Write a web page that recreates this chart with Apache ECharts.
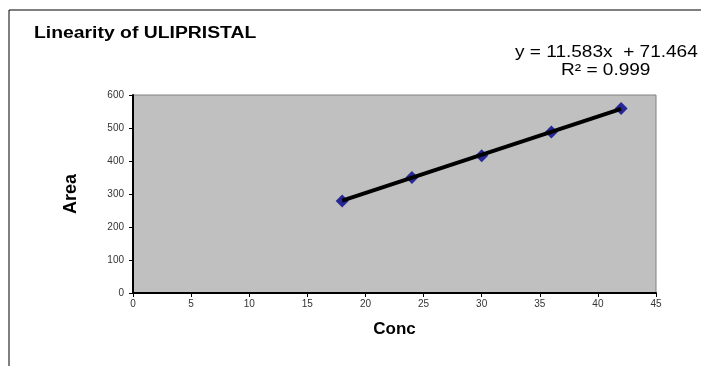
<!DOCTYPE html>
<html><head><meta charset="utf-8">
<script src="https://cdn.jsdelivr.net/npm/echarts@6/dist/echarts.min.js"></script>
<style>html,body{margin:0;padding:0;background:#fff}#c{width:701px;height:366px}</style>
</head><body><div id="c"></div>
<script>
var concValues = [18, 24, 30, 36, 42];
var areaValues = [279, 350, 416, 488, 559];
var trendX = [18, 42];
var trendY = [280, 558];
var xTicks = [0, 5, 10, 15, 20, 25, 30, 35, 40, 45];
var yTicks = [0, 100, 200, 300, 400, 500, 600];
var titleText = 'Linearity of ULIPRISTAL';
var eqText = 'y = 11.583x  + 71.464';
var r2Text = 'R² = 0.999';

var chart = echarts.init(document.getElementById('c'), null, {renderer: 'canvas'});
var font = 'Arial, "Liberation Sans", sans-serif';
chart.setOption({
  animation: false,
  backgroundColor: '#fff',
  grid: {left: 133, right: 45, top: 95, bottom: 73, show: true, backgroundColor: '#c0c0c0', borderColor: '#808080', borderWidth: 1},
  xAxis: {
    type: 'value', min: xTicks[0], max: xTicks[xTicks.length - 1], interval: 5,
    name: 'Conc', nameLocation: 'middle', nameGap: 28,
    nameTextStyle: {fontFamily: font, fontSize: 17, fontWeight: 'bold', color: '#000'},
    axisLine: {show: true, onZero: false, lineStyle: {color: '#000', width: 2}},
    axisTick: {show: true, length: 4, lineStyle: {color: '#000'}},
    axisLabel: {fontFamily: font, fontSize: 10, color: '#333', margin: 6},
    splitLine: {show: false}
  },
  yAxis: {
    type: 'value', min: yTicks[0], max: yTicks[yTicks.length - 1], interval: 100,
    name: 'Area', nameLocation: 'middle', nameGap: 53,
    nameTextStyle: {fontFamily: font, fontSize: 18, fontWeight: 'bold', color: '#000'},
    axisLine: {show: true, onZero: false, lineStyle: {color: '#000', width: 2}},
    axisTick: {show: true, length: 4, lineStyle: {color: '#000'}},
    axisLabel: {fontFamily: font, fontSize: 10, color: '#333', margin: 9},
    splitLine: {show: false}
  },
  graphic: [
    {type: 'line', shape: {x1: 9, y1: 10, x2: 701, y2: 10}, style: {stroke: '#000', lineWidth: 1}},
    {type: 'line', shape: {x1: 9, y1: 10, x2: 9, y2: 366}, style: {stroke: '#000', lineWidth: 1}},
    {type: 'text', x: 34, y: 33.5, scaleX: 1.21,
      style: {text: titleText, x: 0, y: 0, font: 'bold 16px ' + font, fill: '#000', align: 'left', verticalAlign: 'middle'}},
    {type: 'text', x: 515, y: 52.5, scaleX: 1.19,
      style: {text: eqText, x: 0, y: 0, font: '16px ' + font, fill: '#000', align: 'left', verticalAlign: 'middle'}},
    {type: 'text', x: 561, y: 71, scaleX: 1.19,
      style: {text: r2Text, x: 0, y: 0, font: '16px ' + font, fill: '#000', align: 'left', verticalAlign: 'middle'}}
  ],
  series: [
    {
      type: 'line', data: trendX.map(function (x, i) { return [x, trendY[i]]; }),
      symbol: 'none', lineStyle: {color: '#000', width: 4}, z: 3
    },
    {
      type: 'scatter', data: concValues.map(function (x, i) { return [x, areaValues[i]]; }),
      symbol: 'diamond', symbolSize: 13, itemStyle: {color: '#00008b'}, z: 2
    }
  ]
});
</script></body></html>
